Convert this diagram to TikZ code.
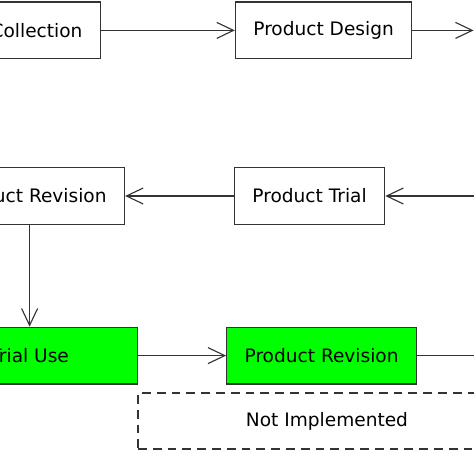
\documentclass[tikz,border=0pt]{standalone}
\usepackage{fontspec}
\setmainfont{DejaVu Sans}
\usepackage{tikz}
\usetikzlibrary{arrows.meta}

\tikzset{
    stage/.style={draw=black!80, thick, rectangle, text=black, minimum height=1.42cm, inner xsep=0.45cm, font=\fontsize{13.2}{16}\selectfont},
    stagedone/.style={stage, fill=green},
}

\begin{document}
\begin{tikzpicture}[>={Straight Barb[length=0.42cm,width=0.4cm]}, color=black!80]
        \useasboundingbox (0,0) rectangle (11.85,-11.85);
        \clip (0,0) rectangle (11.85,-11.85);

        \node[stage, anchor=east] (coll)   at (2.525,-0.76) {Collection};
        \node[stage]              (design) at (8.09,-0.76)  {Product Design};
        \coordinate (next1) at (11.84,-0.76);

        \draw[->][thick] (coll) -- (design);
        \draw[->][thick] (design) -- (next1);

        \node[stage] (trial) at (7.74,-4.9)  {Product Trial};
        \node[stage] (rev1)  at (0.74,-4.9)  {Product Revision};
        \coordinate (prev2) at (12.3,-4.9);

        \draw[->][thick] (prev2) -- (trial);
        \draw[->][thick] (trial) -- (rev1);

        \node[stagedone, minimum width=5.375cm] (use)  at (0.74,-8.89) {Trial Use};
        \node[stagedone]                        (rev2) at (8.04,-8.89) {Product Revision};
        \coordinate (next3) at (12.6,-8.89);

        \draw[->][thick] (rev1) -- (use);
        \draw[->][thick] (use) -- (rev2);
        \draw[->][thick] (rev2) -- (next3);

        \node[stage, dash pattern=on 0.22cm off 0.15cm, minimum width=9.45cm, minimum height=1.4cm] (todo) at (8.175,-10.525) {Not Implemented};

    \end{tikzpicture}
\end{document}
